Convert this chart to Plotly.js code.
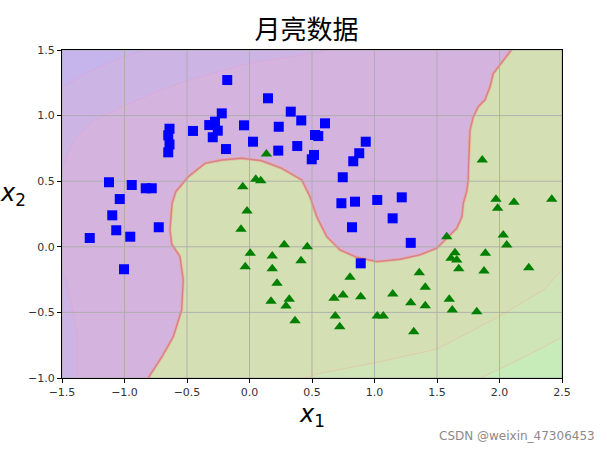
<!DOCTYPE html>
<html><head><meta charset="utf-8">
<script src="https://cdn.plot.ly/plotly-3.0.1.min.js"></script>
<style>html,body{margin:0;padding:0;background:#fff}#chart{width:613px;height:453px}</style>
</head><body><div id="chart"></div>
<script>
// Class 0 (blue squares)
const squareX = [-1.124,-0.942,-0.830,-0.782,-1.038,-1.098,-0.726,-1.066,-0.954,-1.278,-1.004,
  -0.178,0.148,0.33,0.414,-0.222,-0.276,-0.322,-0.254,-0.294,-0.044,0.234,-0.452,
  -0.64,-0.65,-0.64,-0.65,0.028,-0.188,0.23,0.382,0.604,0.524,0.55,0.93,0.878,0.516,0.498,
  0.83,0.746,0.735,0.844,1.022,1.218,1.145,0.82,1.29,0.89];
const squareY = [0.492,0.471,0.446,0.446,0.364,0.240,0.149,0.126,0.077,0.067,-0.171,
  1.271,1.132,1.03,0.963,1.017,0.954,0.928,0.885,0.835,0.926,0.915,0.883,
  0.90,0.85,0.78,0.72,0.801,0.745,0.733,0.768,0.941,0.852,0.844,0.801,0.713,0.70,0.667,
  0.652,0.53,0.332,0.344,0.357,0.377,0.217,0.149,0.03,-0.126];
// Class 1 (green triangles)
const triX = [0.135,-0.054,0.05,0.09,-0.02,-0.068,0.006,-0.034,0.278,0.462,0.182,0.412,0.182,0.22,
  0.172,0.318,0.292,0.364,0.804,0.676,0.748,0.89,0.686,0.722,1.022,1.07,1.146,1.29,1.406,1.314,
  1.358,1.406,1.598,1.622,1.818,1.578,1.644,1.612,1.658,1.674,1.887,1.876,2.234,1.972,1.985,
  2.116,2.418,2.03,2.058,1.862];
const triY = [0.707,0.458,0.514,0.504,0.273,0.133,-0.05,-0.152,0.015,0.0,-0.07,-0.106,-0.167,-0.278,
  -0.415,-0.40,-0.451,-0.563,-0.233,-0.393,-0.367,-0.38,-0.527,-0.609,-0.527,-0.527,-0.36,-0.426,-0.449,-0.647,
  -0.197,-0.309,-0.40,-0.482,-0.495,0.077,-0.045,-0.088,-0.101,-0.167,-0.05,-0.184,-0.159,0.362,0.293,
  0.339,0.362,0.09,0.014,0.662];

// Decision boundary
const boundaryX = [-0.82,-0.795,-0.70,-0.61,-0.543,-0.53,-0.556,-0.622,-0.636,-0.63,-0.62,-0.59,-0.53,-0.49,
  -0.356,-0.222,-0.062,0.098,0.258,0.418,0.484,0.538,0.618,0.724,0.858,1.018,1.204,1.364,1.498,1.578,
  1.658,1.70,1.71,1.737,1.75,1.752,1.764,1.79,1.83,1.884,1.924,1.95,2.004,2.084,2.11];
const boundaryY = [-1.02,-0.977,-0.838,-0.685,-0.482,-0.253,-0.075,0.02,0.128,0.23,0.33,0.42,0.49,0.534,
  0.636,0.662,0.675,0.656,0.598,0.509,0.382,0.23,0.077,-0.024,-0.08,-0.113,-0.095,-0.062,-0.011,0.064,
  0.141,0.23,0.33,0.42,0.509,0.61,0.89,0.99,1.068,1.12,1.22,1.32,1.386,1.487,1.52];

// Faint decision-function bands
const cornerX = [-1.52,-1.35,-1.196,-1.0,-0.876,-0.83];
const cornerY = [1.20,1.30,1.373,1.45,1.487,1.51];
const stripX = [-1.38,-1.38,-1.41,-1.47,-1.51,-1.51,-1.46,-1.396,-1.25,-1.02,-0.75,-0.49,0.0,0.52,0.66];
const stripY = [-1.05,-0.66,-0.5,-0.25,-0.15,0.55,0.70,0.814,0.96,1.066,1.18,1.27,1.40,1.477,1.51];
const bandAX = [0.40,0.56,1.0,1.5,2.0,2.35,2.52];
const bandAY = [-1.01,-0.965,-0.885,-0.78,-0.53,-0.33,-0.16];
const bandBX = [1.82,1.87,2.2,2.52];
const bandBY = [-1.01,-0.99,-0.84,-0.68];

const xTicks = [-1.5,-1.0,-0.5,0.0,0.5,1.0,1.5,2.0,2.5];
const yTicks = [-1.0,-0.5,0.0,0.5,1.0,1.5];
const xRange = [-1.5,2.5], yRange = [-1.0,1.5];

function poly(xs, ys, extraX, extraY, color) {
  return {x: xs.concat(extraX), y: ys.concat(extraY), mode:'lines', fill:'toself',
    fillcolor: color, line:{width:0}, hoverinfo:'skip', showlegend:false, type:'scatter'};
}
function curve(xs, ys, color, w) {
  return {x: xs, y: ys, mode:'lines', line:{color:color, width:w, shape:'linear'},
    hoverinfo:'skip', showlegend:false, type:'scatter'};
}
const gx=[], gy=[];
xTicks.forEach(t=>{gx.push(t,t,null); gy.push(yRange[0],yRange[1],null);});
yTicks.forEach(t=>{gx.push(xRange[0],xRange[1],null); gy.push(t,t,null);});

const traces = [
  poly(stripX, stripY, [-1.6,-1.6], [1.6,-1.1], '#ccb5e5'),
  poly(cornerX, cornerY, [-1.6], [1.6], '#c5b5ec'),
  curve(stripX, stripY, 'rgba(225,160,210,0.6)', 1),
  curve(cornerX, cornerY, 'rgba(225,160,210,0.6)', 1),
  poly(boundaryX, boundaryY, [2.6,2.6,-0.85], [1.6,-1.1,-1.1], '#d4dfb4'),
  poly(bandAX, bandAY, [2.6], [-1.1], '#cfe5b7'),
  poly(bandBX, bandBY, [2.6], [-1.1], '#c8ecb9'),
  curve(bandAX, bandAY, 'rgba(230,190,160,0.6)', 1),
  curve(bandBX, bandBY, 'rgba(230,190,160,0.6)', 1),
  curve(boundaryX, boundaryY, 'rgba(240,160,120,0.55)', 3),
  curve(boundaryX, boundaryY, '#d97f8e', 1.4),
  {x:gx, y:gy, mode:'lines', line:{color:'rgba(170,170,170,0.85)', width:1}, hoverinfo:'skip', showlegend:false, type:'scatter'},
  {x:squareX, y:squareY, mode:'markers', type:'scatter', showlegend:false,
    marker:{symbol:'square', size:10, color:'#0000ff', line:{width:0}}},
  {x:triX, y:triY, mode:'markers', type:'scatter', showlegend:false,
    marker:{symbol:'triangle-up', size:10, color:'#008000', line:{width:0}}}
];

const axisCommon = {showgrid:false, zeroline:false, showline:true, linecolor:'#000', linewidth:1,
  mirror:true, ticks:'outside', ticklen:4, tickcolor:'#000', tickformat:'.1f',
  tickfont:{family:'DejaVu Sans', size:11, color:'#333'}, fixedrange:true};

const layout = {
  width:613, height:453, autosize:false,
  margin:{l:62, r:51, t:50, b:75},
  paper_bgcolor:'#ffffff', plot_bgcolor:'#d4b4de',
  title:{text:'月亮数据', font:{family:'Noto Sans CJK SC', size:26, color:'#000'},
    x:0.5, xanchor:'center', y:1-30/453, yanchor:'middle', yref:'container'},
  xaxis:Object.assign({}, axisCommon, {range:xRange, tickvals:xTicks}),
  yaxis:Object.assign({}, axisCommon, {range:yRange, tickvals:yTicks}),
  showlegend:false, hovermode:false,
  annotations:[
    {text:'<i>x</i><sub>1</sub>', xref:'paper', yref:'paper', x:0.5, y:-0.115, xanchor:'center', yanchor:'middle',
     showarrow:false, font:{family:'DejaVu Sans', size:24, color:'#000'}},
    {text:'<i>x</i><sub>2</sub>', xref:'paper', yref:'paper', x:-0.098, y:0.56, xanchor:'center', yanchor:'middle',
     showarrow:false, font:{family:'DejaVu Sans', size:24, color:'#000'}},
    {text:'CSDN @weixin_47306453', xref:'paper', yref:'paper', x:1.07, y:-0.177, xanchor:'right', yanchor:'middle',
     showarrow:false, font:{family:'DejaVu Sans', size:12, color:'#8a8a8a'}}
  ]
};
Plotly.newPlot('chart', traces, layout, {displayModeBar:false, staticPlot:true});
</script></body></html>
